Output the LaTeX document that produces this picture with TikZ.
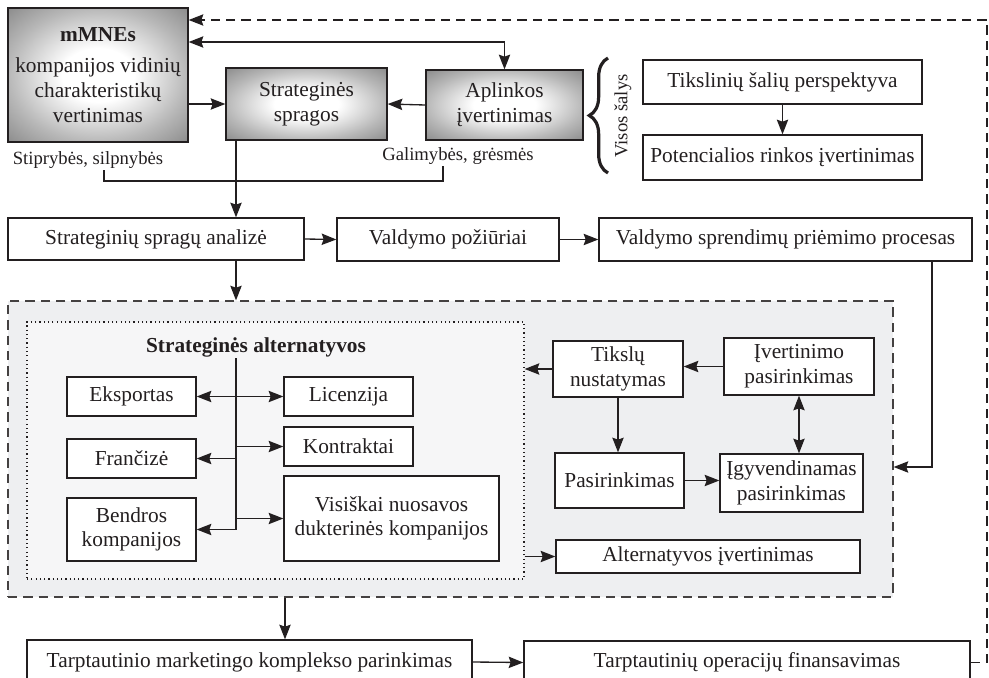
\documentclass[tikz,border=0pt]{standalone}
\usepackage{fontspec}
\setmainfont{Liberation Serif}
\usepackage{tikz}
\usetikzlibrary{arrows.meta,positioning,decorations.pathreplacing}
\definecolor{linija}{HTML}{231F20}
\definecolor{zonafill}{HTML}{EEEFF1}
\definecolor{vidus}{HTML}{F6F6F7}
\pgfdeclareradialshading{svies}{\pgfpoint{0bp}{0bp}}{color(0bp)=(white); color(10bp)=(white); color(25bp)=(black!28); color(36bp)=(black!46); color(50bp)=(black!46)}

\begin{document}
\begin{tikzpicture}[x=0.75pt, y=-0.75pt, color=linija,
  font=\fontsize{16}{18.5}\selectfont,
  dydis/.style 2 args={minimum width=#1*0.75pt, minimum height=#2*0.75pt},
  deze/.style={draw=linija, line width=1pt, fill=white, inner sep=0pt, align=center},
  seselis/.style={deze, shade, shading=svies},
  zyme/.style={font=\fontsize{14}{16}\selectfont, inner sep=1pt},
  rodykle/.style={-{Stealth[length=11pt,width=8.5pt,inset=1.5pt]}, line width=1pt},
  abi/.style={{Stealth[length=11pt,width=8.5pt,inset=1.5pt]}-{Stealth[length=11pt,width=8.5pt,inset=1.5pt]}, line width=1pt}]
\useasboundingbox (0,0) rectangle (989,678);
\clip (0,0) rectangle (989,678);
\node[draw=linija!85, dash pattern=on 7pt off 4.5pt, line width=0.9pt, fill=zonafill, inner sep=0pt, dydis={885}{296}] (zona) at (450.5,449) {};
\node[draw=linija, dash pattern=on 0.9pt off 2.3pt, line width=1pt, fill=vidus, inner sep=0pt, dydis={497}{257}] (alts) at (275.5,450.5) {};
\node[seselis, dydis={180}{134}] (mmne) at (98,75) {\textbf{mMNEs}\\[5pt]kompanijos vidinių\\charakteristikų\\vertinimas};
\node[seselis, dydis={161}{72}] (sprag) at (306.5,104) {Strateginės\\spragos};
\node[seselis, dydis={157}{70}] (aplink) at (504.5,105) {Aplinkos\\įvertinimas};
\node[zyme] (stip) at (88,160) {Stiprybės, silpnybės};
\node[zyme] (galim) at (458,156) {Galimybės, grėsmės};
\node[zyme, rotate=90] (visos) at (623,116) {Visos šalys};
\node[deze, dydis={279}{44}] (tiksl) at (782.5,82) {Tikslinių šalių perspektyva};
\node[deze, dydis={279}{45}] (poten) at (782.5,157.5) {Potencialios rinkos įvertinimas};
\node[deze, dydis={296}{42}] (anal) at (156,239) {Strateginių spragų analizė};
\node[deze, dydis={222}{43}] (pozi) at (448,239.5) {Valdymo požiūriai};
\node[deze, dydis={373}{43}] (proc) at (785.5,239.5) {Valdymo sprendimų priėmimo procesas};
\node[font=\fontsize{16}{18.5}\selectfont\bfseries, inner sep=1pt] (alttit) at (256,347) {Strateginės alternatyvos};
\node[deze, dydis={129}{39}] (eksp) at (131.5,396.5) {Eksportas};
\node[deze, dydis={129}{39}] (lic) at (348.5,396.5) {Licenzija};
\node[deze, dydis={129}{39}] (kontr) at (348.5,446.5) {Kontraktai};
\node[deze, dydis={129}{39}] (franc) at (131.5,458.5) {Frančizė};
\node[deze, dydis={215}{85}] (visisk) at (391.5,518.5) {Visiškai nuosavos\\dukterinės kompanijos};
\node[deze, dydis={129}{63}] (bendr) at (131.5,529.5) {Bendros\\kompanijos};
\node[deze, dydis={130}{56}] (tikslu) at (618,369) {Tikslų\\nustatymas};
\node[deze, dydis={150}{57}] (ivert) at (799,366.5) {Įvertinimo\\pasirinkimas};
\node[deze, dydis={129}{55}] (pasir) at (619.5,480.5) {Pasirinkimas};
\node[deze, dydis={143}{58}] (igyv) at (791.5,483) {Įgyvendinamas\\pasirinkimas};
\node[deze, dydis={304}{33}] (altiv) at (708,556.5) {Alternatyvos įvertinimas};
\node[deze, dydis={445}{44}] (marks) at (249.5,662) {Tarptautinio marketingo komplekso parinkimas};
\node[deze, dydis={446}{43}] (finans) at (747,662.5) {Tarptautinių operacijų finansavimas};
\coordinate (stulp) at (236,0);
\coordinate (nuleid) at (285,0);
\coordinate (desine) at (932,0);
\coordinate (virsus) at (987,20);
\coordinate (apacia) at (0,181);
\draw[rodykle] (mmne.east |- sprag) -- (sprag.west);
\draw[rodykle] (aplink.west) -- (sprag.east);
\draw[abi] (mmne.20) -| (aplink.north);
\draw[rodykle, dash pattern=on 7pt off 4.5pt] (finans.east) -| (virsus) -- (mmne.east |- virsus);
\draw[line width=1pt] ([xshift=12pt]stip.south) |- ([xshift=-11.25pt]galim.south |- apacia) -- ([xshift=-11.25pt]galim.south);
\draw[rodykle] (sprag.south -| stulp) -- (anal.north -| stulp);
\draw[rodykle] (anal.south -| stulp) -- (zona.north -| stulp);
\foreach \a/\b in {anal/pozi, pozi/proc}
  \draw[rodykle] (\a.east) -- (\b.west);
\draw[rodykle] (tiksl) -- (poten);
\draw[rodykle] (proc.south -| desine) |- ([yshift=-13.5pt]zona.east);
\draw[decorate, decoration={brace, amplitude=14pt}, line width=2.4pt] (608,173) -- (608,58);
\draw[line width=1pt] (alttit.south -| stulp) -- (bendr.east -| stulp);
\draw[abi] (eksp.east) -- (lic.west);
\foreach \n in {kontr, visisk}
  \draw[rodykle] (\n.west -| stulp) -- (\n.west);
\foreach \n in {franc, bendr}
  \draw[rodykle] (\n.east -| stulp) -- (\n.east);
\draw[rodykle] (tikslu.west) -- (tikslu.west -| alts.east);
\draw[rodykle] (ivert.west) -- (ivert.west -| tikslu.east);
\draw[rodykle] (tikslu.south) -- (tikslu.south |- pasir.north);
\draw[rodykle] (pasir.east) -- (pasir.east -| igyv.west);
\draw[abi] (ivert.south) -- (ivert.south |- igyv.north);
\draw[rodykle] (altiv.west -| alts.east) -- (altiv.west);
\draw[rodykle] (zona.south -| nuleid) -- (marks.north -| nuleid);
\draw[rodykle] (marks.east) -- (finans.west);
\end{tikzpicture}
\end{document}
